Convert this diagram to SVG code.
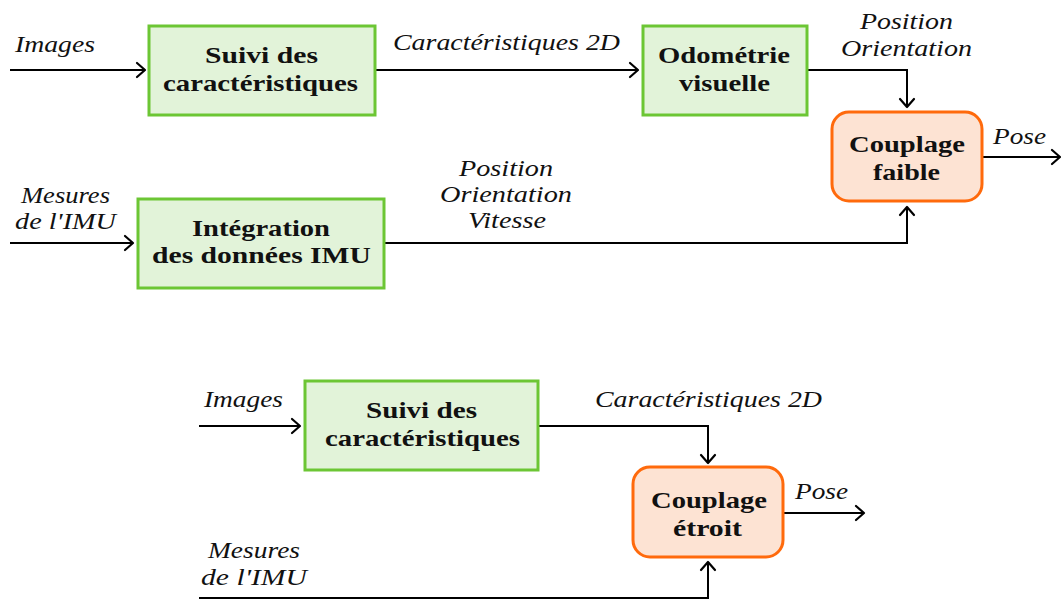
<svg xmlns="http://www.w3.org/2000/svg" width="1061" height="599" viewBox="0 0 1061 599">
  <style>
    .blk { fill: #e2f3d9; stroke: #6cc634; stroke-width: 3; }
    .cpl { fill: #fde3d3; stroke: #ff6a0c; stroke-width: 3; }
    .bt { font-family: "Liberation Serif", "DejaVu Serif", serif; font-weight: bold; font-size: 24px; fill: #111; }
    .it { font-family: "Liberation Serif", "DejaVu Serif", serif; font-style: italic; font-size: 23px; fill: #111; }
    .wire { fill: none; stroke: #000; stroke-width: 2; }
  </style>
  <defs>
    <marker id="arrow" markerUnits="userSpaceOnUse" markerWidth="20" markerHeight="20" viewBox="-10 -10 20 20" refX="0" refY="0" orient="auto">
      <path d="M-8,-7 L0,0 L-8,7" fill="none" stroke="#000" stroke-width="2.2" stroke-linecap="round" stroke-linejoin="round"/>
    </marker>
  </defs>
  <rect width="1061" height="599" fill="#fff"/>

  <!-- connectors -->
  <g id="connectors">
    <path class="wire" d="M10,70 H145" marker-end="url(#arrow)"/>
    <path class="wire" d="M375,70 H638" marker-end="url(#arrow)"/>
    <path class="wire" d="M807,70 H907 V107" marker-end="url(#arrow)"/>
    <path class="wire" d="M10,243 H133" marker-end="url(#arrow)"/>
    <path class="wire" d="M384,243 H907 V207" marker-end="url(#arrow)"/>
    <path class="wire" d="M983,157 H1060" marker-end="url(#arrow)"/>

    <path class="wire" d="M199,426 H300" marker-end="url(#arrow)"/>
    <path class="wire" d="M538,426 H708 V463" marker-end="url(#arrow)"/>
    <path class="wire" d="M784,513 H864" marker-end="url(#arrow)"/>
    <path class="wire" d="M199,598 H708 V562" marker-end="url(#arrow)"/>
  </g>

  <!-- connector labels -->
  <g id="labels">
    <text class="it" x="15" y="52" textLength="80" lengthAdjust="spacingAndGlyphs">Images</text>
    <text class="it" x="393" y="50" textLength="227" lengthAdjust="spacingAndGlyphs">Caractéristiques 2D</text>
    <text class="it" x="860" y="29" textLength="93" lengthAdjust="spacingAndGlyphs">Position</text>
    <text class="it" x="841" y="56" textLength="131" lengthAdjust="spacingAndGlyphs">Orientation</text>
    <text class="it" x="993" y="144" textLength="53" lengthAdjust="spacingAndGlyphs">Pose</text>
    <text class="it" x="21" y="203" textLength="89" lengthAdjust="spacingAndGlyphs">Mesures</text>
    <text class="it" x="15" y="229" textLength="101" lengthAdjust="spacingAndGlyphs">de l'IMU</text>
    <text class="it" x="459" y="176" textLength="94" lengthAdjust="spacingAndGlyphs">Position</text>
    <text class="it" x="440" y="202" textLength="132" lengthAdjust="spacingAndGlyphs">Orientation</text>
    <text class="it" x="468" y="228" textLength="78" lengthAdjust="spacingAndGlyphs">Vitesse</text>

    <text class="it" x="204" y="407" textLength="79" lengthAdjust="spacingAndGlyphs">Images</text>
    <text class="it" x="595" y="407" textLength="227" lengthAdjust="spacingAndGlyphs">Caractéristiques 2D</text>
    <text class="it" x="795" y="499" textLength="53" lengthAdjust="spacingAndGlyphs">Pose</text>
    <text class="it" x="208" y="558" textLength="92" lengthAdjust="spacingAndGlyphs">Mesures</text>
    <text class="it" x="201" y="585" textLength="106" lengthAdjust="spacingAndGlyphs">de l'IMU</text>
  </g>

  <!-- nodes -->
  <g id="suivi-1">
    <rect class="blk" x="149" y="26" width="226" height="89"/>
    <text class="bt" x="205" y="63" textLength="113" lengthAdjust="spacingAndGlyphs">Suivi des</text>
    <text class="bt" x="163" y="91" textLength="195" lengthAdjust="spacingAndGlyphs">caractéristiques</text>
  </g>
  <g id="odometrie">
    <rect class="blk" x="643" y="26" width="164" height="89"/>
    <text class="bt" x="658" y="63" textLength="132" lengthAdjust="spacingAndGlyphs">Odométrie</text>
    <text class="bt" x="679" y="91" textLength="91" lengthAdjust="spacingAndGlyphs">visuelle</text>
  </g>
  <g id="couplage-faible">
    <rect class="cpl" x="832" y="112" width="150" height="89" rx="17" ry="17"/>
    <text class="bt" x="849" y="152" textLength="116" lengthAdjust="spacingAndGlyphs">Couplage</text>
    <text class="bt" x="873" y="180" textLength="67" lengthAdjust="spacingAndGlyphs">faible</text>
  </g>
  <g id="integration">
    <rect class="blk" x="138" y="199" width="246" height="89"/>
    <text class="bt" x="192" y="236" textLength="138" lengthAdjust="spacingAndGlyphs">Intégration</text>
    <text class="bt" x="152" y="263" textLength="219" lengthAdjust="spacingAndGlyphs">des données IMU</text>
  </g>

  <g id="suivi-2">
    <rect class="blk" x="305" y="381" width="233" height="89"/>
    <text class="bt" x="366" y="418" textLength="111" lengthAdjust="spacingAndGlyphs">Suivi des</text>
    <text class="bt" x="325" y="446" textLength="195" lengthAdjust="spacingAndGlyphs">caractéristiques</text>
  </g>
  <g id="couplage-etroit">
    <rect class="cpl" x="633" y="467" width="150" height="90" rx="17" ry="17"/>
    <text class="bt" x="651" y="508" textLength="116" lengthAdjust="spacingAndGlyphs">Couplage</text>
    <text class="bt" x="673" y="536" textLength="69" lengthAdjust="spacingAndGlyphs">étroit</text>
  </g>
</svg>
